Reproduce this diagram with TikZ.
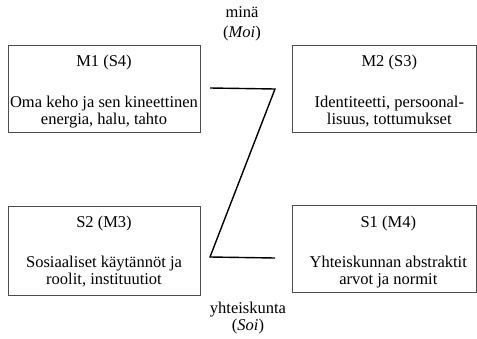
\documentclass[tikz,border=0pt]{standalone}
\usepackage{fontspec}
\setmainfont{Liberation Serif}
\usetikzlibrary{positioning}

\tikzset{
  quad/.style={draw=black!70, line width=0.7pt, minimum width=192pt, minimum height=87pt, inner sep=0pt},
  head/.style={font=\fontsize{16.5}{17}\selectfont, inner sep=0pt},
  body/.style={align=center, font=\fontsize{16.5}{17}\selectfont, inner sep=0pt},
  zline/.style={line width=1.4pt},
}

\begin{document}
\begin{tikzpicture}[x=1pt,y=-1pt]
      \useasboundingbox (0,0) rectangle (477,338);
      \node[quad] (m1) at (104,88.7) {}; % top left
      \node[quad, minimum width=184.5pt] (m2) at (384.3,88.7) {}; % top right
      \node[quad, minimum height=89pt] (s2) at (104,250.5) {}; % bottom left
      \node[quad, minimum width=184.5pt] (s1) at (384.3,249) {}; % bottom right
      \node[head, anchor=base] (m1h) at ([yshift=-22pt]m1.north) {M1 (S4)};
      \node[head, anchor=base] (m2h) at ([xshift=5pt, yshift=-22pt]m2.north) {M2 (S3)};
      \node[head, anchor=base] (s2h) at ([yshift=-22pt]s2.north) {S2 (M3)};
      \node[head, anchor=base] (s1h) at ([xshift=4pt, yshift=-22pt]s1.north) {S1 (M4)};
      \node[body, above=4pt of m1.south] (m1b) {Oma keho ja sen kineettinen\\energia, halu, tahto};
      \node[body, above=5.7pt of m2.south, xshift=5pt] (m2b) {Identiteetti, persoonal-\\lisuus, tottumukset};
      \node[body, above=7.7pt of s2.south] (s2b) {Sosiaaliset käytännöt ja\\roolit, instituutiot};
      \node[body, above=4.4pt of s1.south, xshift=4pt] (s1b) {Yhteiskunnan abstraktit\\arvot ja normit};
      \node[body] (moi) at (242,24) {minä\\[3pt](\textit{Moi})}; % top
      \node[body] (soi) at (248,318) {yhteiskunta\\(\textit{Soi})}; % bottom
      \coordinate (za) at (210,88);
      \coordinate (zb) at (275,89);
      \coordinate (zc) at (210,257);
      \coordinate (zd) at (275,258);
      \draw[zline] (za) -- (zb) -- (zc) -- (zd);
    \end{tikzpicture}
\end{document}
